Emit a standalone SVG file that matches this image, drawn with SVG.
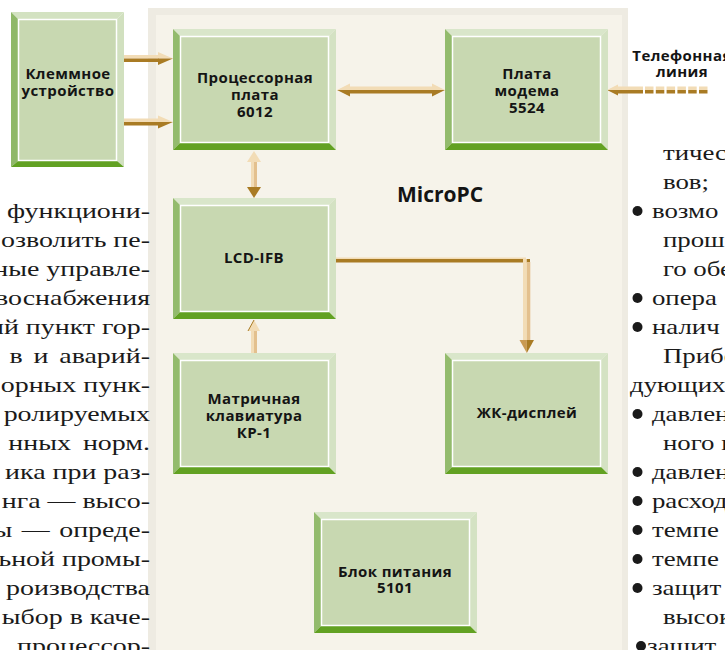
<svg xmlns="http://www.w3.org/2000/svg" xmlns:xlink="http://www.w3.org/1999/xlink" width="725" height="650" viewBox="0 0 725 650">
<style>
.lbl{font-family:"Open Sans","DejaVu Sans",sans-serif;font-weight:bold;font-size:15px;letter-spacing:0.4px;fill:#141414;text-anchor:middle}
.body{font-family:"Liberation Serif","DejaVu Serif",serif;font-size:22px;fill:#1a1a1a}
.bl{text-anchor:end}
.lt{fill:#f2dcb6}
.dk{fill:#a97b24}
.md{fill:#e3c08e}
.bu{fill:#1a1a1a}
</style>
<defs>
<symbol id="box" viewBox="0 0 163 121" width="163" height="121">
<polygon points="0,0 163,0 156,7 7,7" fill="#d9e6ca"/>
<polygon points="0,0 7,7 7,114 0,121" fill="#93bb6d"/>
<polygon points="163,0 163,121 156,114 156,7" fill="#d4e2c3"/>
<polygon points="0,121 163,121 156,114 7,114" fill="#62a122"/>
<rect x="7.5" y="7.5" width="148" height="106" fill="#c8d8b1" stroke="#ffffff" stroke-width="1.5"/>
</symbol>
</defs>
<rect width="725" height="650" fill="#ffffff"/>
<rect x="148" y="8" width="480" height="650" fill="#eeebe2"/>
<rect x="156" y="15" width="466" height="640" fill="#f6f3ea"/>
<text x="440" y="202" font-family="'Open Sans','DejaVu Sans',sans-serif" font-weight="bold" font-size="21" fill="#141414" text-anchor="middle">MicroPC</text>
<g id="connectors">
<rect x="122" y="55" width="37" height="3.5" class="lt"/>
<rect x="122" y="58.5" width="37" height="3.5" class="dk"/>
<polygon points="158,52 173,58.5 158,58.5" class="lt"/>
<polygon points="158,58.5 173,58.5 158,65" class="dk"/>
<rect x="122" y="118.5" width="37" height="3.5" class="lt"/>
<rect x="122" y="122" width="37" height="3.5" class="dk"/>
<polygon points="158,115.5 173,122 158,122" class="lt"/>
<polygon points="158,122 173,122 158,128.5" class="dk"/>
<rect x="349" y="86.5" width="84" height="3.5" class="lt"/>
<rect x="349" y="90" width="84" height="3.5" class="dk"/>
<polygon points="350,83.5 337,90 350,90" class="lt"/>
<polygon points="350,90 337,90 350,96.5" class="dk"/>
<polygon points="432,83.5 445,90 432,90" class="lt"/>
<polygon points="432,90 445,90 432,96.5" class="dk"/>
<polygon points="618,84.5 607,90 618,90" class="lt"/>
<polygon points="618,90 607,90 618,95.5" class="dk"/>
<rect x="617" y="86.5" width="26" height="3.5" class="lt"/>
<rect x="617" y="90" width="26" height="3.5" class="dk"/>
<line x1="645" y1="88.2" x2="708" y2="88.2" stroke="#f2dcb6" stroke-width="3.5" stroke-dasharray="8.5 2.3"/>
<line x1="645" y1="91.8" x2="708" y2="91.8" stroke="#a97b24" stroke-width="3.5" stroke-dasharray="8.5 2.3"/>
<rect x="251" y="160" width="3" height="29" class="lt"/>
<rect x="254" y="160" width="3" height="29" class="md"/>
<polygon points="247,162 254,151 261,162" class="lt"/>
<polygon points="247,187 254,198 261,187" class="dk"/>
<rect x="251" y="330" width="3" height="23" class="lt"/>
<rect x="254" y="330" width="3" height="23" class="md"/>
<polygon points="248,331 254,320 260,331" class="lt"/>
<polyline points="248,331 254,320" fill="none" stroke="#a97b24" stroke-width="1"/>
<rect x="336" y="257.5" width="190" height="1.8" class="lt"/>
<rect x="336" y="259" width="194" height="3.5" class="dk"/>
<rect x="523" y="259" width="3.8" height="82" class="lt"/>
<rect x="526.8" y="262" width="3.5" height="79" class="md"/>
<polygon points="519.5,340 526.8,353 526.8,340" fill="#c99a52"/>
<polygon points="526.8,340 526.8,353 534,340" class="dk"/>
</g>
<g id="klemmnoe">
<polygon points="11,12 124,12 117,19 18,19" fill="#d3e2c1"/>
<polygon points="11,12 18,19 18,161 11,167" fill="#8fb868"/>
<polygon points="124,12 124,167 117,161 117,19" fill="#d1e0bf"/>
<polygon points="11,167 124,167 117,161 18,161" fill="#62a122"/>
<rect x="18.5" y="19.5" width="98" height="141" fill="#c8d8b1" stroke="#ffffff" stroke-width="1.5"/>
<text class="lbl" x="68" y="79">Клеммное</text>
<text class="lbl" x="68" y="96">устройство</text>
</g>
<g id="processor">
<use xlink:href="#box" x="173" y="29"/>
<text class="lbl" x="255" y="83">Процессорная</text>
<text class="lbl" x="255" y="100">плата</text>
<text class="lbl" x="255" y="117">6012</text>
</g>
<g id="modem">
<use xlink:href="#box" x="445" y="29"/>
<text class="lbl" x="527" y="79">Плата</text>
<text class="lbl" x="527" y="96">модема</text>
<text class="lbl" x="527" y="113">5524</text>
</g>
<g id="lcd-ifb">
<use xlink:href="#box" x="173" y="198"/>
<text class="lbl" x="254" y="263">LCD-IFB</text>
</g>
<g id="keyboard">
<use xlink:href="#box" x="173" y="353"/>
<text class="lbl" x="254" y="404">Матричная</text>
<text class="lbl" x="254" y="421">клавиатура</text>
<text class="lbl" x="254" y="438">КР-1</text>
</g>
<g id="lcd-display">
<use xlink:href="#box" x="445" y="353"/>
<text class="lbl" x="527" y="418">ЖК-дисплей</text>
</g>
<g id="power">
<use xlink:href="#box" x="314" y="512"/>
<text class="lbl" x="395" y="577">Блок питания</text>
<text class="lbl" x="395" y="593">5101</text>
</g>
<g id="phone-label">
<text class="lbl" x="682" y="61" font-size="13.5" letter-spacing="0">Телефонная</text>
<text class="lbl" x="682" y="77" font-size="13.5" letter-spacing="0">линия</text>
</g>
<g id="left-text" class="body" transform="translate(150,0) scale(1.27,1)">
<text class="bl" x="0" y="218">функциони-</text>
<text class="bl" x="0" y="247">озволить пе-</text>
<text class="bl" x="0" y="276">ные управле-</text>
<text class="bl" x="0" y="305">воснабжения</text>
<text class="bl" x="0" y="334">ий пункт гор-</text>
<text class="bl" x="0" y="363" word-spacing="3">в и аварий-</text>
<text class="bl" x="0" y="392">орных пунк-</text>
<text class="bl" x="0" y="421">ролируемых</text>
<text class="bl" x="0" y="450" word-spacing="4">нных норм.</text>
<text class="bl" x="0" y="479">ика при раз-</text>
<text class="bl" x="0" y="508">нга — высо-</text>
<text class="bl" x="0" y="537" word-spacing="2">ы — опреде-</text>
<text class="bl" x="0" y="566">ьной промы-</text>
<text class="bl" x="0" y="595">роизводства</text>
<text class="bl" x="0" y="624">ыбор в каче-</text>
<text class="bl" x="0" y="653">процессор-</text>
</g>
<g id="bullets">
<circle cx="637.5" cy="211" r="5" class="bu"/>
<circle cx="637.5" cy="298" r="5" class="bu"/>
<circle cx="637.5" cy="327" r="5" class="bu"/>
<circle cx="637.5" cy="414" r="5" class="bu"/>
<circle cx="637.5" cy="472" r="5" class="bu"/>
<circle cx="637.5" cy="501" r="5" class="bu"/>
<circle cx="637.5" cy="530" r="5" class="bu"/>
<circle cx="637.5" cy="559" r="5" class="bu"/>
<circle cx="637.5" cy="588" r="5" class="bu"/>
<circle cx="641" cy="646" r="5" class="bu"/>
</g>
<g id="right-text" class="body" transform="translate(630,0) scale(1.22,1)">
<text x="27" y="160">тичес</text>
<text x="27" y="189">вов;</text>
<text x="18" y="218">возмо</text>
<text x="27" y="247">прош</text>
<text x="27" y="276">го обе</text>
<text x="18" y="305">опера</text>
<text x="18" y="334">налич</text>
<text x="27" y="363">Прибо</text>
<text x="0" y="392">дующих</text>
<text x="18" y="421">давлен</text>
<text x="27" y="450">ного п</text>
<text x="18" y="479">давлен</text>
<text x="18" y="508">расход</text>
<text x="18" y="537">темпе</text>
<text x="18" y="566">темпе</text>
<text x="18" y="595">защит</text>
<text x="27" y="624">высок</text>
<text x="14" y="653">защит</text>
</g>
</svg>
